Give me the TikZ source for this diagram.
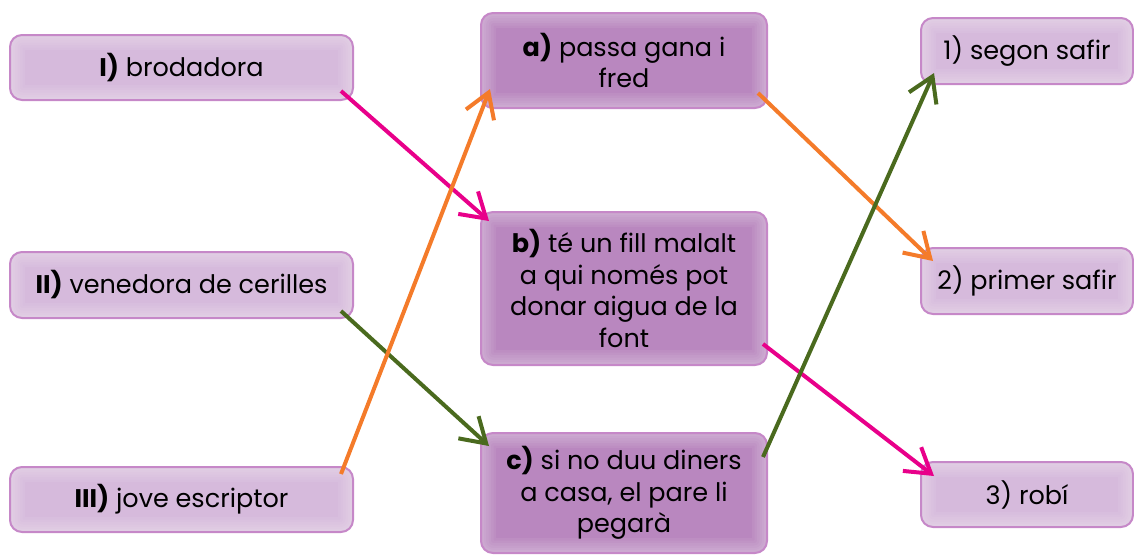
\documentclass[tikz,border=0pt]{standalone}
\usepackage{fontspec}
\setmainfont{Poppins}[Ligatures=NoCommon]
\usetikzlibrary{arrows.meta,calc}
\definecolor{lightbox}{HTML}{D6BADC}
\definecolor{darkbox}{HTML}{B987BF}
\definecolor{boxline}{HTML}{C688C8}
\definecolor{cpink}{HTML}{E8008A}
\definecolor{corange}{HTML}{F47B2A}
\definecolor{cgreen}{HTML}{4A6A1E}
\tikzset{
  glow/.style={path picture={
    \foreach \w in {30,25,20,15,10,6}{\draw[white, opacity=0.06, line width=\w pt, rounded corners=12pt]
      (path picture bounding box.south west) rectangle (path picture bounding box.north east);}}},
  box/.style={draw=boxline, line width=2pt, rounded corners=12pt, align=center, glow,
    font=\fontsize{25.5}{31.5}\selectfont, inner sep=0pt, text=black},
  lbox/.style={box, fill=lightbox},
  dbox/.style={box, fill=darkbox},
  link/.style={line width=4pt, -{Straight Barb[length=24pt,width=30pt,line width=4pt]}},
}
\begin{document}
\begin{tikzpicture}[x=1pt,y=-1pt]
\useasboundingbox (0,0) rectangle (1134,554);
% left column
\node[lbox, minimum width=343pt, minimum height=65pt] (I) at (181.5,67.5) {\textbf{I)} brodadora};
\node[lbox, minimum width=343pt, minimum height=66pt] (II) at (181.5,285) {\textbf{II)} venedora de cerilles};
\node[lbox, minimum width=343pt, minimum height=65pt] (III) at (181.5,499.5) {\textbf{III)} jove escriptor};
% middle column
\node[dbox, minimum width=286pt, minimum height=95pt] (a) at (624,60.5) {\textbf{a)} passa gana i\\fred};
\node[dbox, minimum width=286pt, minimum height=153pt] (b) at (624,288.5) {\textbf{b)} té un fill malalt\\a qui només pot\\donar aigua de la\\font};
\node[dbox, minimum width=286pt, minimum height=120pt] (c) at (624,493) {\textbf{c)} si no duu diners\\a casa, el pare li\\pegarà};
% right column
\node[lbox, minimum width=212pt, minimum height=66pt] (r1) at (1027,51) {1) segon safir};
\node[lbox, minimum width=212pt, minimum height=66pt] (r2) at (1027,281) {2) primer safir};
\node[lbox, minimum width=212pt, minimum height=65pt] (r3) at (1027,494.5) {3) robí};
% connectors
\draw[link, cpink] ($(I.south east)+(-13,-10)$) -- ($(b.north west)+(9,10)$);
\draw[link, cgreen] ($(II.south east)+(-13,-8)$) -- ($(c.north west)+(9,14)$);
\draw[link, corange] ($(III.north east)+(-13,8)$) -- ($(a.south west)+(10,-20)$);
\draw[link, corange] ($(a.south east)+(-10,-16)$) -- ($(r2.north west)+(13,14)$);
\draw[link, cpink] ($(b.south east)+(-5,-22)$) -- ($(r3.north west)+(14,15)$);
\draw[link, cgreen] ($(c.north east)+(-5,25)$) -- ($(r1.south west)+(14,-12)$);
\end{tikzpicture}
\end{document}
